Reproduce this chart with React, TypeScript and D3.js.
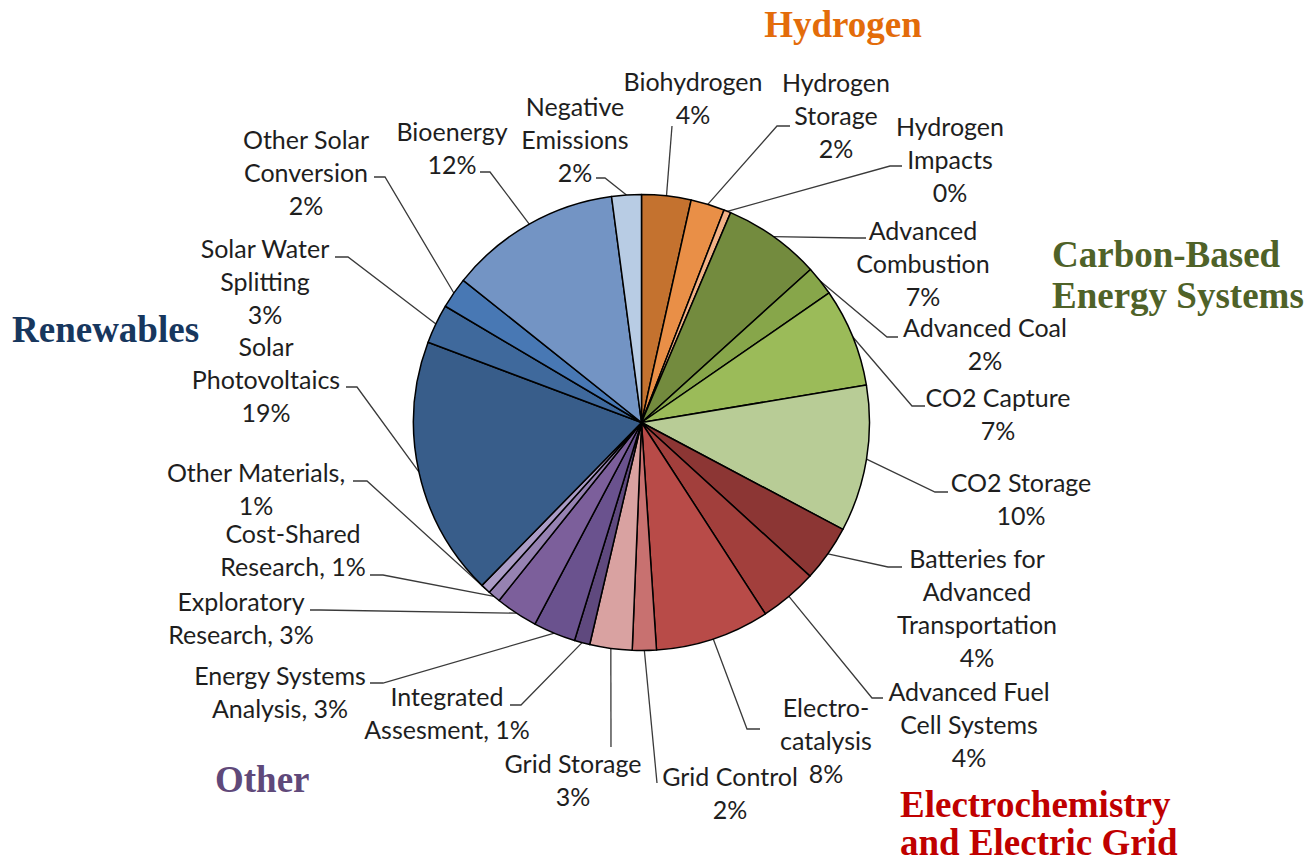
import React, { useEffect, useRef } from "react"
import * as d3 from "d3"

// slices clockwise from 12 o'clock
const categories = [
  "Biohydrogen", "Hydrogen Storage", "Hydrogen Impacts", "Advanced Combustion",
  "Advanced Coal", "CO2 Capture", "CO2 Storage", "Batteries for Advanced Transportation",
  "Advanced Fuel Cell Systems", "Electrocatalysis", "Grid Control", "Grid Storage",
  "Integrated Assesment", "Energy Systems Analysis", "Exploratory Research",
  "Cost-Shared Research", "Other Materials", "Solar Photovoltaics",
  "Solar Water Splitting", "Other Solar Conversion", "Bioenergy", "Negative Emissions",
]
const shares = [3.5, 2.4, 0.5, 6.9, 2.1, 7.0, 10.4, 4.0, 4.1, 8.1, 1.7, 3.0, 1.1, 3.0, 3.0, 0.9, 0.7, 18.4, 2.8, 2.2, 12.2, 2.1]
const labelLines = [
  ["Biohydrogen", "4%"],
  ["Hydrogen", "Storage", "2%"],
  ["Hydrogen", "Impacts", "0%"],
  ["Advanced", "Combustion", "7%"],
  ["Advanced Coal", "2%"],
  ["CO2 Capture", "7%"],
  ["CO2 Storage", "10%"],
  ["Batteries for", "Advanced", "Transportation", "4%"],
  ["Advanced Fuel", "Cell Systems", "4%"],
  ["Electro-", "catalysis", "8%"],
  ["Grid Control", "2%"],
  ["Grid Storage", "3%"],
  ["Integrated", "Assesment, 1%"],
  ["Energy Systems", "Analysis, 3%"],
  ["Exploratory", "Research, 3%"],
  ["Cost-Shared", "Research, 1%"],
  ["Other Materials,", "1%"],
  ["Solar", "Photovoltaics", "19%"],
  ["Solar Water", "Splitting", "3%"],
  ["Other Solar", "Conversion", "2%"],
  ["Bioenergy", "12%"],
  ["Negative", "Emissions", "2%"],
]
const sliceColors = [
  "#c4722f", "#e98f47", "#f2b286", "#738b3e", "#87a64a", "#9bbb59", "#b8cc96",
  "#8c3634", "#a23f3c", "#b84b48", "#c87170", "#d9a2a1",
  "#5f497e", "#6a528e", "#7c5f9b", "#9682b2", "#ab9cc6",
  "#385d8a", "#3f699c", "#4878b4", "#7394c4", "#b8cce4",
]
const groupTitles = [["Hydrogen"], ["Carbon-Based", "Energy Systems"], ["Renewables"], ["Other"], ["Electrochemistry", "and Electric Grid"]]
const groupColors = ["#e36c0a", "#4f6228", "#17375e", "#5f497a", "#c00000"]

// label layout: centre x, centre y of first line, leader elbow and end
const labelLayout = [
  { x: 693, y: 82, elbow: [672, 126], end: [672, 126] },
  { x: 836, y: 83, elbow: [777, 126], end: [790, 126] },
  { x: 950, y: 127, elbow: [890, 166], end: [902, 166] },
  { x: 923, y: 231, elbow: [855, 238], end: [866, 238] },
  { x: 985, y: 328, elbow: [887, 337], end: [898, 337] },
  { x: 998, y: 398, elbow: [912, 406], end: [925, 406] },
  { x: 1021, y: 483, elbow: [935, 492], end: [948, 492] },
  { x: 977, y: 559, elbow: [888, 567], end: [902, 567] },
  { x: 969, y: 692, elbow: [872, 698], end: [883, 698] },
  { x: 826, y: 708, elbow: [747, 729], end: [760, 729] },
  { x: 730, y: 777, elbow: [657, 783], end: [657, 783] },
  { x: 573, y: 764, elbow: [611, 747], end: [611, 747] },
  { x: 447, y: 697, elbow: [521, 705], end: [510, 705] },
  { x: 280, y: 676, elbow: [383, 683], end: [370, 683] },
  { x: 241, y: 602, elbow: [320, 610], end: [310, 610] },
  { x: 293, y: 534, elbow: [383, 575], end: [370, 575] },
  { x: 256, y: 473, elbow: [367, 481], end: [353, 481] },
  { x: 266, y: 347, elbow: [357, 387], end: [346, 387] },
  { x: 265, y: 249, elbow: [348, 257], end: [335, 257] },
  { x: 306, y: 140, elbow: [385, 177], end: [374, 177] },
  { x: 452, y: 132, elbow: [490, 172], end: [480, 172] },
  { x: 575, y: 107, elbow: [605, 178], end: [596, 178] },
]
const titleLayout = [
  { x: 843, y: 37, anchor: "middle", gap: 41 },
  { x: 1052, y: 267, anchor: "start", gap: 41 },
  { x: 12, y: 342, anchor: "start", gap: 41 },
  { x: 215, y: 792, anchor: "start", gap: 41 },
  { x: 900, y: 817, anchor: "start", gap: 38 },
]

const W = 1307
const H = 863

export default function App() {
  const ref = useRef<SVGSVGElement>(null)

  useEffect(() => {
    const svg = d3.select(ref.current)
    svg.selectAll("*").remove()
    const cx = 641.5
    const cy = 422.5
    const R = 228

    const pie = d3.pie<number>().sort(null).value(d => d)
    const arcs = pie(shares)
    const arc = d3.arc<d3.PieArcDatum<number>>().innerRadius(0).outerRadius(R)
    const edge = d3.arc<d3.PieArcDatum<number>>().innerRadius(R).outerRadius(R)

    // leader lines first so the pie sits on top
    const line = d3.line()
    svg.append("g")
      .selectAll("path")
      .data(arcs)
      .enter()
      .append("path")
      .attr("d", (d, i) => {
        const c = edge.centroid(d)
        const lay = labelLayout[i]
        return line([[cx + c[0], cy + c[1]], lay.elbow as [number, number], lay.end as [number, number]])
      })
      .attr("fill", "none")
      .attr("stroke", "#3a3a3a")
      .attr("stroke-width", 1.3)

    svg.append("g")
      .attr("transform", `translate(${cx},${cy})`)
      .selectAll("path")
      .data(arcs)
      .enter()
      .append("path")
      .attr("d", arc)
      .attr("fill", (d, i) => sliceColors[i])
      .attr("stroke", "#000")
      .attr("stroke-width", 1.5)
      .attr("stroke-linejoin", "round")
      .append("title")
      .text((d, i) => categories[i])

    const labels = svg.append("g")
      .attr("font-family", "Lato, 'Open Sans', sans-serif")
      .attr("font-size", 25)
      .attr("fill", "#1e1e1e")
      .attr("text-anchor", "middle")
    labelLines.forEach((lines, i) => {
      const lay = labelLayout[i]
      const t = labels.append("text")
      lines.forEach((s, j) => {
        t.append("tspan")
          .attr("x", lay.x)
          .attr("y", lay.y + j * 33 + 9)
          .text(s)
      })
    })

    const titles = svg.append("g")
      .attr("font-family", "'Liberation Serif', 'Times New Roman', serif")
      .attr("font-weight", "bold")
      .attr("font-size", 37)
    groupTitles.forEach((lines, i) => {
      const lay = titleLayout[i]
      const t = titles.append("text")
        .attr("fill", groupColors[i])
        .attr("text-anchor", lay.anchor)
      lines.forEach((s, j) => {
        t.append("tspan")
          .attr("x", lay.x)
          .attr("y", lay.y + j * lay.gap)
          .text(s)
      })
    })
  }, [])

  return (
    <svg
      ref={ref}
      width={W}
      height={H}
      style={{ position: "absolute", left: 0, top: 0, background: "#fff" }}
    />
  )
}
